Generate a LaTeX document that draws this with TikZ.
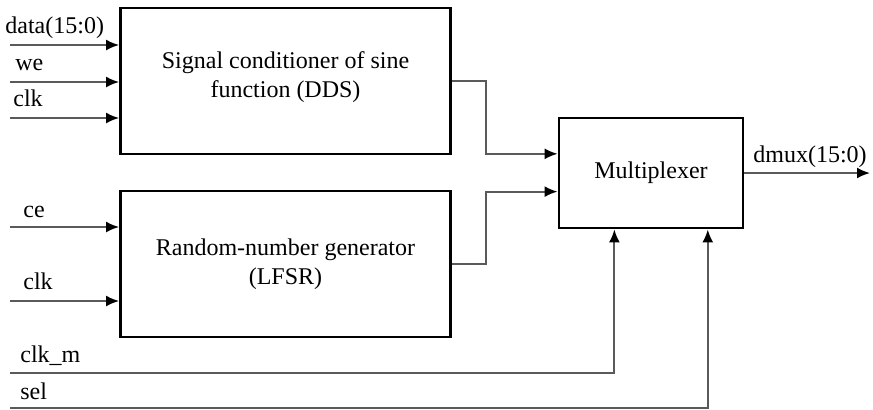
\documentclass[tikz,border=0pt]{standalone}
\usepackage{fontspec}
\setmainfont{Liberation Serif}
\definecolor{wiregray}{HTML}{5A5A5A}
\usetikzlibrary{arrows.meta, positioning, calc}

\begin{document}
\begin{tikzpicture}[x=0.5pt, y=-0.5pt, every node/.style={font=\fontsize{12}{14.5}\selectfont}]
  \tikzset{
    block/.style={draw=black, line width=1.4pt, fill=white,
                  align=center, inner sep=0pt},
    wire/.style={draw=wiregray, line width=1pt,
                 -{Latex[length=6.5pt, width=5.5pt, black]}},
    pin/.style={anchor=base west, inner sep=0pt}
  }
  \useasboundingbox (0,0) rectangle (873,409);

  % blocks
  \node[block, minimum width=165pt, minimum height=73pt] (dds) at (285.5,81)
        {Signal conditioner of sine\\function (DDS)\\[-8.5pt]};
  \node[block, minimum width=165pt, minimum height=73pt] (lfsr) at (285.5,264)
        {Random-number generator\\(LFSR)};
  \node[block, minimum width=92pt, minimum height=55pt] (mux) at (651,173)
        {Multiplexer};

  % inputs of the DDS
  \coordinate (in-data) at (10,45);
  \coordinate (in-we)   at (10,82);
  \coordinate (in-clk1) at (10,118);
  \node[pin] (l-data) at (5,33)  {data(15:0)};
  \node[pin] (l-we)   at (15,70) {we};
  \node[pin] (l-clk1) at (13,106) {clk};
  \draw[wire] (in-data) -- (in-data -| dds.west);
  \draw[wire] (in-we)   -- (in-we -| dds.west);
  \draw[wire] (in-clk1) -- (in-clk1 -| dds.west);

  % inputs of the LFSR
  \coordinate (in-ce)   at (10,227);
  \coordinate (in-clk2) at (10,301);
  \node[pin] (l-ce)   at (23,217) {ce};
  \node[pin] (l-clk2) at (23,289) {clk};
  \draw[wire] (in-ce)   -- (in-ce -| lfsr.west);
  \draw[wire] (in-clk2) -- (in-clk2 -| lfsr.west);

  % multiplexer
  \coordinate (m-in1) at ($(mux.north west)!0.33!(mux.south west)$);
  \coordinate (m-in2) at ($(mux.north west)!0.665!(mux.south west)$);
  \coordinate (m-clk) at ($(mux.south west)!0.304!(mux.south east)$);
  \coordinate (m-sel) at ($(mux.south west)!0.804!(mux.south east)$);
  \draw[wire] (dds.east) -- ++(34,0) |- (m-in1);
  \draw[wire] (lfsr.east) -- ++(34,0) |- (m-in2);

  \coordinate (in-clkm) at (10,373);
  \coordinate (in-sel)  at (10,408);
  \node[pin] (l-clkm) at (20,362) {clk\_m};
  \node[pin] (l-sel)  at (20,399) {sel};
  \draw[wire] (in-clkm) -| (m-clk);
  \draw[wire] (in-sel)  -| (m-sel);

  % output
  \coordinate (out) at (870,173);
  \node[pin] (l-dmux) at (753,162) {dmux(15:0)};
  \draw[wire] (mux.east) -- (out);
\end{tikzpicture}
\end{document}
